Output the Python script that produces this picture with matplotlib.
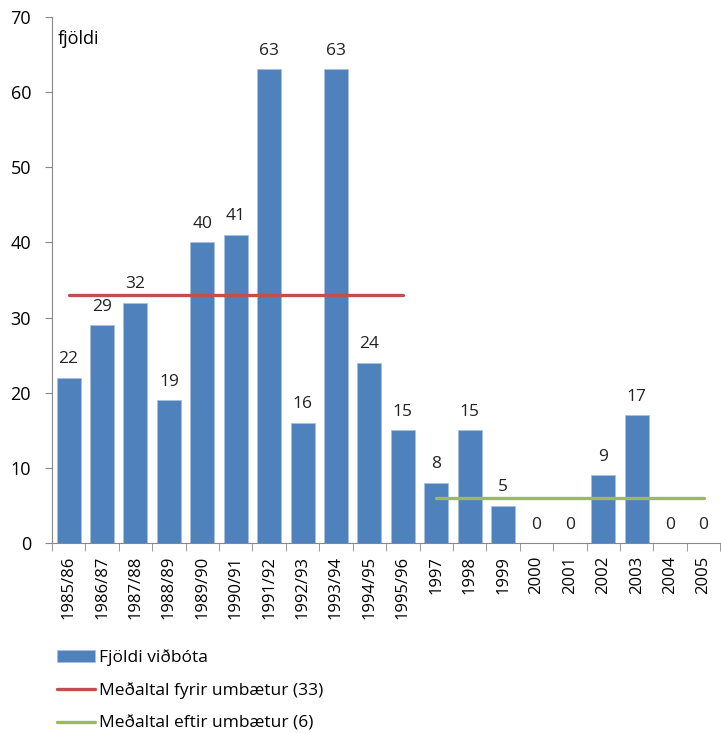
import matplotlib
matplotlib.use("Agg")
import matplotlib.pyplot as plt
import numpy as np

plt.rcParams['font.family'] = ['Open Sans', 'DejaVu Sans']

# gögn
flokkar = ["1985/86", "1986/87", "1987/88", "1988/89", "1989/90", "1990/91",
           "1991/92", "1992/93", "1993/94", "1994/95", "1995/96", "1997",
           "1998", "1999", "2000", "2001", "2002", "2003", "2004", "2005"]
fjoldi = [22, 29, 32, 19, 40, 41, 63, 16, 63, 24, 15, 8, 15, 5, 0, 0, 9, 17, 0, 0]
medal_fyrir = [33] * 11 + [np.nan] * 9
medal_eftir = [np.nan] * 11 + [6] * 9

blar = "#4F81BD"
raudur = "#C0504D"
graenn = "#9BBB59"
grar = "#888888"

fig = plt.figure(figsize=(7.21, 7.33), dpi=100)
ax = fig.add_axes([0.072, 0.259, 0.927, 0.718])

x = np.arange(len(flokkar))
bars = ax.bar(x, fjoldi, width=0.72, color=blar, edgecolor="#A7C0DE", linewidth=0.6,
              label="Fjöldi viðbóta")
l1, = ax.plot(x, medal_fyrir, color=raudur, lw=2.4, solid_capstyle="round",
              label="Meðaltal fyrir umbætur (33)")
l2, = ax.plot(x, medal_eftir, color=graenn, lw=2.4, solid_capstyle="round",
              label="Meðaltal eftir umbætur (6)")

for xi, v in zip(x, fjoldi):
    ax.text(xi, v + 1.4, str(v), ha="center", va="bottom", fontsize=12.5, color="#222222")

ax.set_xlim(-0.5, len(flokkar) - 0.5)
ax.set_ylim(0, 70)
ax.set_yticks(range(0, 71, 10))
ax.tick_params(axis="y", labelsize=13, length=5, color=grar, pad=10)

ax.set_xticks(x)
ax.set_xticklabels(flokkar, rotation=90, fontsize=12)
ax.set_xticks(np.arange(-0.5, len(flokkar), 1), minor=True)
ax.tick_params(axis="x", which="major", length=0, pad=9)
ax.tick_params(axis="x", which="minor", length=6, color=grar)

for s in ["top", "right"]:
    ax.spines[s].set_visible(False)
ax.spines["left"].set_color(grar)
ax.spines["bottom"].set_color(grar)

ax.text(0.008, 0.975, "fjöldi", transform=ax.transAxes, fontsize=13, va="top", ha="left")

fig.legend(handles=[bars, l1, l2], loc="upper left", bbox_to_anchor=(0.062, 0.131),
           frameon=False, fontsize=12.5, handlelength=2.2, handletextpad=0.2,
           labelspacing=0.95, borderaxespad=0.3)

fig.savefig("out.png", dpi=100)
